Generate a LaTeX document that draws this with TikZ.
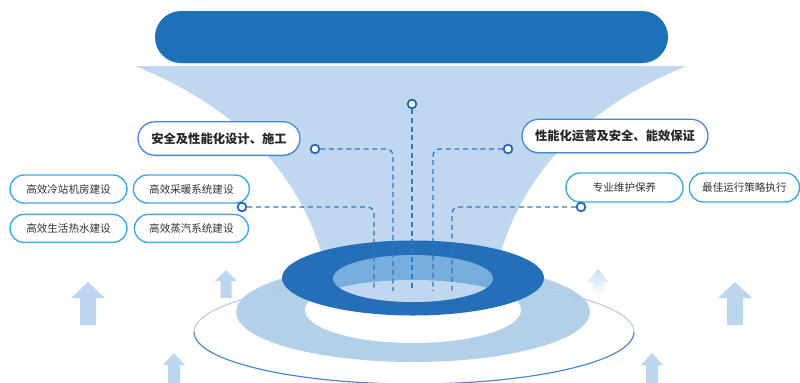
\documentclass[tikz,border=0pt]{standalone}
\usepackage{fontspec}
\setmainfont{Noto Sans CJK SC}
\usetikzlibrary{positioning,shadows}
\definecolor{bannerblue}{HTML}{1C71B7}
\definecolor{funnelblue}{HTML}{BFD7EF}
\definecolor{ringblue}{HTML}{256EB8}
\definecolor{holeblue}{HTML}{76AEDD}
\definecolor{haloblue}{HTML}{B3D0E9}
\definecolor{arrowblue}{HTML}{BDD6EF}
\definecolor{linkblue}{HTML}{2F78C4}
\definecolor{dotblue}{HTML}{2E6AB4}
\definecolor{itemline}{HTML}{3FAAE2}
\definecolor{stageline}{HTML}{4A86CC}
\definecolor{textgray}{HTML}{333333}
\tikzset{
  item box/.style={rectangle, rounded corners=4.2mm, draw=itemline, line width=0.42mm, fill=white, text=textgray,
    minimum height=8.4mm, minimum width=35.1mm, inner sep=0pt, font=\fontsize{9}{10}\selectfont},
  stage label/.style={rectangle, rounded corners=5mm, draw=stageline, line width=0.38mm, fill=white, text=black!85,
    minimum height=10mm, inner sep=0pt, font=\bfseries\fontsize{10.5}{12}\selectfont,
    drop shadow={shadow xshift=0mm, shadow yshift=-0.5mm, opacity=0.12, fill=bannerblue}},
  link dot/.style={circle, draw=dotblue, line width=0.55mm, fill=white, minimum size=2.6mm, inner sep=0pt},
  link line/.style={draw=linkblue, line width=0.4mm, dash pattern=on 1.5mm off 1.1mm, rounded corners=2mm},
  pics/lift/.style args={#1/#2/#3/#4}{code={
    \path[pic actions] (-#1,#4) -- (-#1,#3) -- (-#2,#3) -- (0,0) -- (#2,#3) -- (#1,#3) -- (#1,#4) -- cycle;
  }}
}

\begin{document}
\begin{tikzpicture}[x=0.3mm, y=-0.3mm]
    \useasboundingbox (0,0) rectangle (800,382);

    % Funnel
    \fill[funnelblue] (135,66) -- (687,66) .. controls (577,110) and (522,180) .. (500,255)
        -- (500,285) -- (322,285) -- (322,255) .. controls (300,180) and (245,110) .. (135,66) -- cycle;

    % Base halo and outer orbit
    \fill[haloblue] (413,312) ellipse [x radius=177, y radius=50];
    \begin{scope}
        \clip (0,250) rectangle (800,332);
        \draw[stageline!45, line width=0.3mm] (414,332) ellipse [x radius=220, y radius=52];
    \end{scope}
    \begin{scope}
        \clip (0,332) rectangle (800,400);
        \draw[stageline, line width=0.35mm] (414,332) ellipse [x radius=220, y radius=52];
    \end{scope}
    \fill[white] (413,310) ellipse [x radius=108, y radius=33];

    % Ring
    \fill[ringblue] (413,278) ellipse [x radius=131, y radius=37.5];
    \fill[holeblue] (413,278.5) ellipse [x radius=80, y radius=23.5];
    \begin{scope}
        \clip (413,278.5) ellipse [x radius=80, y radius=23.5];
        \fill[funnelblue] (413,304) ellipse [x radius=100, y radius=24];
    \end{scope}

    % Lift arrows
    \pic[fill=arrowblue] at (88,282) {lift=8/17/16/43};
    \pic[fill=arrowblue] at (735,282) {lift=8/17/16/43};
    \pic[fill=arrowblue] at (226,270) {lift=5.5/11/11/28};
    \pic[top color=arrowblue!80, bottom color=white] at (598,269) {lift=5.5/10.5/13/27};
    \pic[fill=arrowblue] at (174,353) {lift=6/11/12/35};
    \pic[fill=arrowblue] at (652,353) {lift=6/11/12/35};

    % Banner
    \node[rectangle, rounded corners=7.8mm, fill=bannerblue, minimum width=153.9mm, minimum height=15.6mm,
        drop shadow={shadow xshift=0mm, shadow yshift=-0.5mm, opacity=0.1, fill=bannerblue}] (banner) at (411.5,37) {};

    % Stage labels
    \node[stage label, minimum width=48.6mm] (design) at (219,138.5) {安全及性能化设计、施工};
    \node[stage label, minimum width=55.8mm] (operate) at (615,136) {性能化运营及安全、能效保证};

    % Items
    \node[item box] (cooling) at (68.5,189) {高效冷站机房建设};
    \node[item box, right=1.5mm of cooling, minimum width=34.8mm] (heating) {高效采暖系统建设};
    \node[item box, below=3mm of cooling] (hotwater) {高效生活热水建设};
    \node[item box, below=3mm of heating, minimum width=34.2mm] (steam) {高效蒸汽系统建设};
    \node[item box, minimum height=8.7mm] (upkeep) at (624.5,187.5) {专业维护保养};
    \node[item box, right=1.5mm of upkeep, minimum height=8.7mm, minimum width=33mm] (strategy) {最佳运行策略执行};

    % Link ends
    \coordinate (foot1) at (374,291);
    \coordinate (foot2) at (393,291);
    \coordinate (foot3) at (412,291);
    \coordinate (foot4) at (433,291);
    \coordinate (foot5) at (452,291);

    % Link dots
    \node[link dot] (dotTop) at (412,104) {};
    \node[link dot] (dotDesign) at (315,149) {};
    \node[link dot] (dotOperate) at (508,149) {};
    \node[link dot] (dotBuild) at (242,207) {};
    \node[link dot] (dotService) at (581,207) {};

    % Links
    \draw[link line] (dotTop) -- (foot3);
    \draw[link line] (dotDesign) -- (dotDesign -| foot2) -- (foot2);
    \draw[link line] (dotOperate) -- (dotOperate -| foot4) -- (foot4);
    \draw[link line] (dotBuild) -- (dotBuild -| foot1) -- (foot1);
    \draw[link line] (dotService) -- (dotService -| foot5) -- (foot5);
\end{tikzpicture}
\end{document}
